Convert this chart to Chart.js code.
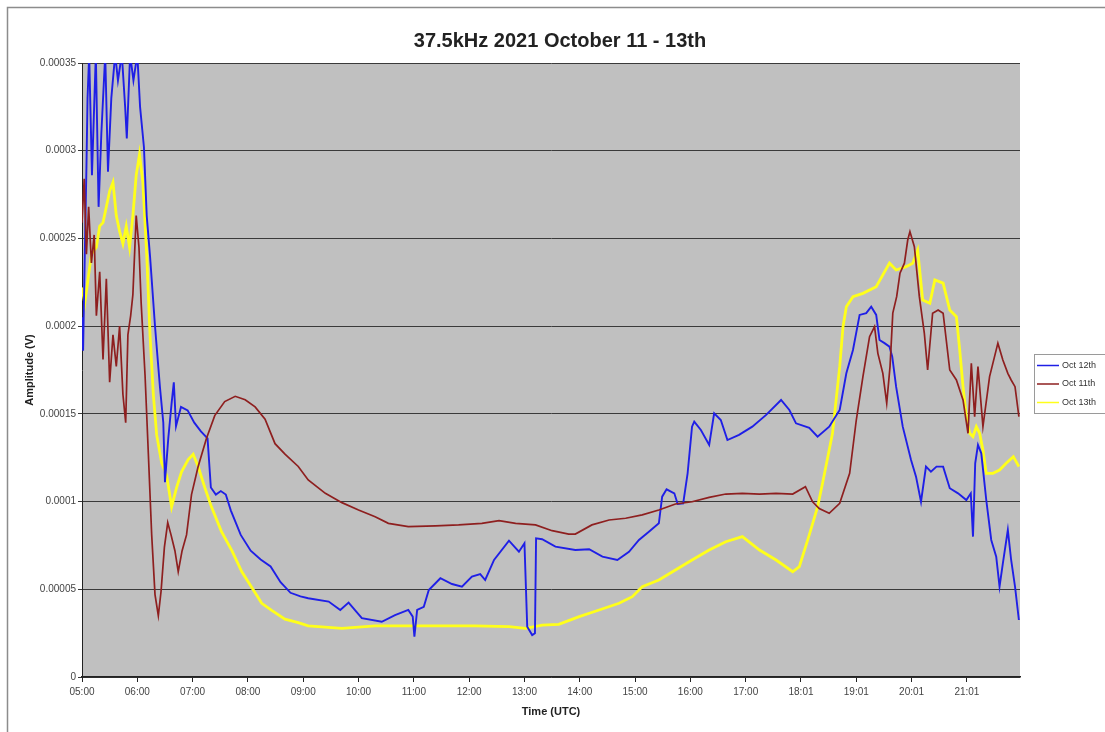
<!DOCTYPE html>
<html>
<head>
<meta charset="utf-8">
<script src="https://cdn.jsdelivr.net/npm/chart.js@4/dist/chart.umd.min.js"></script>
<style>
html,body{margin:0;padding:0;background:#fff;}
#wrap{width:1105px;height:732px;position:relative;}
</style>
</head>
<body>
<div id="wrap"><canvas id="c" width="1105" height="732"></canvas></div>
<script>
// ---- Data (time in decimal hours UTC, amplitude in units of 1e-5 V) ----
const chartTitle = "37.5kHz 2021 October 11 - 13th";
const seriesNames = ["Oct 12th", "Oct 11th", "Oct 13th"];

const xTickValues = [5,6,7,8,9,10,11,12,13,14,15,16,17,18,19,20,21];
const xTickLabels = ["05:00","06:00","07:00","08:00","09:00","10:00","11:00","12:00","13:00","14:00","15:00","16:00","17:00","18:01","19:01","20:01","21:01"];
const yTickValues = [0,0.00005,0.0001,0.00015,0.0002,0.00025,0.0003,0.00035];
const yTickLabels = ["0","0.00005","0.0001","0.00015","0.0002","0.00025","0.0003","0.00035"];

const oct12Hours = [5.00,5.02,5.05,5.08,5.10,5.13,5.18,5.25,5.30,5.35,5.42,5.47,5.53,5.60,5.65,5.72,5.78,5.81,5.87,5.93,6.00,6.05,6.12,6.17,6.23,6.32,6.41,6.47,6.50,6.56,6.62,6.66,6.70,6.79,6.91,7.03,7.15,7.27,7.33,7.42,7.51,7.60,7.69,7.87,8.05,8.23,8.41,8.59,8.77,8.95,9.09,9.46,9.67,9.82,10.06,10.42,10.66,10.90,10.98,11.01,11.06,11.18,11.27,11.48,11.69,11.87,12.05,12.20,12.29,12.45,12.72,12.90,13.00,13.05,13.14,13.19,13.21,13.32,13.56,13.92,14.17,14.41,14.68,14.89,15.07,15.25,15.43,15.49,15.57,15.71,15.77,15.87,15.95,16.03,16.07,16.19,16.34,16.43,16.55,16.67,16.88,17.12,17.37,17.64,17.79,17.91,18.15,18.30,18.51,18.70,18.82,18.94,19.06,19.18,19.27,19.36,19.42,19.51,19.60,19.65,19.72,19.84,19.99,20.08,20.17,20.26,20.35,20.45,20.57,20.69,20.84,20.99,21.07,21.11,21.15,21.20,21.26,21.35,21.44,21.53,21.59,21.65,21.74,21.80,21.87,21.94];
const oct12Amp = [20.5,18.6,24,29,33,35.5,28.6,35.5,26.8,31,35.5,28.8,33,35.5,34,35.5,32.5,30.7,35.5,34,35.5,32.5,30.2,26.3,24,20,16.5,14.5,11.1,13.6,15.6,16.8,14.3,15.4,15.2,14.5,14,13.6,10.8,10.4,10.6,10.4,9.5,8.1,7.2,6.7,6.3,5.4,4.8,4.6,4.49,4.3,3.82,4.24,3.35,3.15,3.53,3.82,3.44,2.3,3.82,4.0,4.96,5.63,5.3,5.15,5.72,5.87,5.53,6.67,7.77,7.14,7.62,2.87,2.39,2.49,7.9,7.85,7.43,7.24,7.28,6.86,6.67,7.14,7.81,8.28,8.76,10.28,10.7,10.47,9.86,9.9,11.61,14.27,14.56,14.08,13.23,15.03,14.65,13.51,13.8,14.27,14.94,15.79,15.22,14.46,14.2,13.7,14.27,15.22,17.31,18.64,20.64,20.74,21.11,20.64,19.21,19.03,18.83,18.26,16.55,14.27,12.37,11.42,9.99,11.99,11.7,11.99,11.99,10.76,10.47,10.09,10.47,8.0,12.18,13.23,12.75,10.09,7.81,6.86,5.15,6.48,8.38,6.67,5.15,3.25];

const oct11Hours = [5.00,5.04,5.08,5.12,5.17,5.22,5.26,5.32,5.38,5.44,5.50,5.56,5.62,5.68,5.74,5.79,5.83,5.88,5.92,5.98,6.03,6.07,6.14,6.20,6.26,6.32,6.38,6.43,6.49,6.55,6.61,6.68,6.74,6.81,6.89,6.98,7.10,7.25,7.40,7.58,7.77,7.95,8.13,8.31,8.49,8.67,8.91,9.09,9.40,9.70,10.00,10.30,10.54,10.90,11.39,11.81,12.23,12.54,12.84,13.20,13.50,13.80,13.92,14.22,14.53,14.83,15.13,15.43,15.73,16.03,16.34,16.64,16.94,17.25,17.55,17.85,18.08,18.21,18.33,18.51,18.70,18.88,19.00,19.12,19.24,19.33,19.39,19.48,19.55,19.61,19.66,19.73,19.79,19.87,19.93,19.97,20.05,20.14,20.23,20.29,20.38,20.48,20.57,20.69,20.81,20.93,21.02,21.08,21.14,21.20,21.29,21.41,21.56,21.65,21.74,21.80,21.87,21.94];
const oct11Amp = [25.9,28.4,24.1,26.8,23.6,25.2,20.6,23.1,18.1,22.7,16.8,19.5,17.7,20.0,16.1,14.5,19.5,20.6,21.8,26.3,24.5,21.3,17.2,12.7,8.1,4.7,3.5,4.9,7.4,8.8,8.1,7.2,6.0,7.2,8.1,10.4,12.0,13.6,14.9,15.7,16.0,15.8,15.4,14.7,13.3,12.7,12.0,11.23,10.47,9.94,9.52,9.14,8.76,8.57,8.61,8.67,8.76,8.91,8.76,8.67,8.34,8.15,8.15,8.67,8.95,9.05,9.24,9.52,9.86,9.99,10.24,10.43,10.47,10.43,10.47,10.43,10.85,9.99,9.6,9.33,9.9,11.61,14.65,17.12,19.4,19.97,18.45,17.31,15.6,17.69,20.74,21.68,23.02,23.59,24.91,25.39,24.53,21.68,19.6,17.5,20.74,20.92,20.74,17.5,16.93,15.79,13.89,17.88,14.84,17.69,14.27,17.12,19.03,18.07,17.31,16.93,16.55,14.84];

const oct13Hours = [5.00,5.05,5.11,5.17,5.26,5.32,5.38,5.44,5.50,5.56,5.62,5.68,5.74,5.80,5.86,5.92,5.98,6.04,6.10,6.17,6.23,6.29,6.35,6.44,6.53,6.62,6.71,6.80,6.92,7.01,7.10,7.22,7.34,7.52,7.71,7.89,8.07,8.25,8.43,8.67,8.91,9.09,9.70,10.30,10.90,11.50,12.10,12.72,13.02,13.32,13.62,13.99,14.35,14.71,14.95,15.13,15.43,15.73,16.03,16.34,16.64,16.94,17.25,17.55,17.85,17.97,18.15,18.30,18.39,18.57,18.70,18.76,18.82,18.94,19.12,19.36,19.60,19.72,19.90,20.02,20.11,20.20,20.33,20.42,20.57,20.69,20.81,20.87,20.93,20.99,21.05,21.11,21.17,21.23,21.29,21.35,21.47,21.59,21.71,21.84,21.94];
const oct13Amp = [22.2,21.3,22.7,24.1,24.5,25.7,25.9,26.8,27.7,28.2,26.3,25.4,24.7,25.7,24.5,26.3,28.6,29.8,28.2,24.1,19.5,16.1,13.8,12.2,11.5,9.7,10.8,11.7,12.4,12.7,12.0,10.8,9.7,8.3,7.2,6.0,5.1,4.2,3.8,3.3,3.1,2.91,2.77,2.91,2.91,2.91,2.91,2.87,2.77,2.96,3.0,3.44,3.82,4.2,4.58,5.15,5.53,6.1,6.67,7.24,7.71,8.0,7.24,6.67,6.0,6.29,8.1,9.7,11.04,13.89,17.69,19.97,21.11,21.68,21.87,22.25,23.59,23.2,23.39,23.59,24.34,21.49,21.3,22.63,22.45,20.92,20.54,18.64,16.55,14.84,13.89,13.7,14.27,13.89,12.94,11.61,11.61,11.8,12.18,12.56,11.99];

const seriesColors = ["#1f1fe6", "#8e1f1f", "#ffff1a"];
const seriesWidths = [1.9, 1.7, 2.8];

// ---- build ----
const UNIT = 1e-5;
function pts(h, a){ return h.map((x,i)=>({x:x, y:a[i]*UNIT})); }

const bgPlugin = {
  id:'bg',
  beforeDraw(chart){
    const {ctx, chartArea:a} = chart;
    ctx.save();
    ctx.fillStyle='#ffffff';
    ctx.fillRect(0,0,chart.width,chart.height);
    ctx.strokeStyle='#8c8c8c';
    ctx.lineWidth=1.5;
    ctx.strokeRect(7.5,7.5,1200,800);
    ctx.fillStyle='#c0c0c0';
    ctx.fillRect(a.left,a.top,a.right-a.left,a.bottom-a.top);
    ctx.fillStyle='#222';
    ctx.font='bold 20px "Liberation Sans", Arial, sans-serif';
    ctx.textAlign='center';
    ctx.textBaseline='middle';
    ctx.fillText(chartTitle,560,41);
    ctx.restore();
  }
};

const legendPlugin = {
  id:'boxLegend',
  afterDraw(chart){
    const ctx = chart.ctx;
    ctx.save();
    ctx.fillStyle='#ffffff';
    ctx.strokeStyle='#9a9a9a';
    ctx.lineWidth=1;
    ctx.fillRect(1034.5,354.5,90,59);
    ctx.strokeRect(1034.5,354.5,90,59);
    ctx.font='9px "Liberation Sans", Arial, sans-serif';
    ctx.textBaseline='middle';
    ctx.textAlign='left';
    chart.data.datasets.forEach((ds,i)=>{
      const y = 365.5 + i*18.5;
      ctx.strokeStyle = ds.borderColor;
      ctx.lineWidth = 1.5;
      ctx.beginPath(); ctx.moveTo(1037,y); ctx.lineTo(1059,y); ctx.stroke();
      ctx.fillStyle='#333';
      ctx.fillText(ds.label,1062,y);
    });
    ctx.restore();
  }
};

const datasets = [
  {label:seriesNames[0], data:pts(oct12Hours,oct12Amp)},
  {label:seriesNames[1], data:pts(oct11Hours,oct11Amp)},
  {label:seriesNames[2], data:pts(oct13Hours,oct13Amp)}
].map((d,i)=>Object.assign(d,{
  borderColor:seriesColors[i], backgroundColor:seriesColors[i],
  borderWidth:seriesWidths[i], pointRadius:0, tension:0, fill:false, clip:0,
  order: i===1 ? 0 : (i===0 ? 1 : 2)
}));

new Chart(document.getElementById('c'), {
  type:'line',
  data:{datasets},
  options:{
    responsive:false, animation:false, devicePixelRatio:1,
    layout:{padding:{left:0,right:85,top:63,bottom:0}},
    plugins:{
      legend:{display:false},
      tooltip:{enabled:false},
      title:{display:false}
    },
    scales:{
      x:{type:'linear', min:5, max:21.96,
        afterBuildTicks(s){ s.ticks = xTickValues.map(v=>({value:v})); },
        afterFit(s){ s.height = 55; },
        ticks:{autoSkip:false, maxRotation:0, padding:4, color:'#444',
          font:{family:'"Liberation Sans", Arial, sans-serif', size:10},
          callback:(v,i)=>xTickLabels[i]},
        grid:{drawOnChartArea:false, drawTicks:true, tickLength:5, color:'#222'},
        border:{display:true, color:'#222', width:1.5},
        title:{display:true, text:'Time (UTC)', color:'#222',
          font:{family:'"Liberation Sans", Arial, sans-serif', size:11, weight:'bold'},
          padding:{top:0,bottom:13}}
      },
      y:{type:'linear', min:0, max:0.00035,
        afterBuildTicks(s){ s.ticks = yTickValues.map(v=>({value:v})); },
        afterFit(s){ s.width = 82; },
        ticks:{padding:2, color:'#444',
          font:{family:'"Liberation Sans", Arial, sans-serif', size:10},
          callback:(v,i)=>yTickLabels[i]},
        grid:{drawOnChartArea:true, drawTicks:true, tickLength:4, color:'#3a3a3a', lineWidth:1},
        border:{display:true, color:'#222', width:1},
        title:{display:true, text:'Amplitude (V)', color:'#222',
          font:{family:'"Liberation Sans", Arial, sans-serif', size:11, weight:'bold'},
          padding:{top:23,bottom:0}}
      }
    }
  },
  plugins:[bgPlugin, legendPlugin]
});
</script>
</body>
</html>
